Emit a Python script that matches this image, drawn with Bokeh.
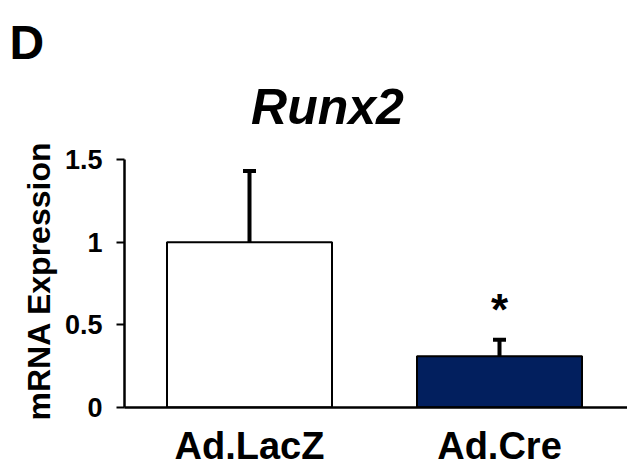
from bokeh.plotting import figure
from bokeh.models import Range1d, FixedTicker, Whisker, TeeHead, ColumnDataSource, Title, Label
from bokeh.core.properties import value
from bokeh.embed import file_html
from bokeh.resources import INLINE

categories = ["Ad.LacZ", "Ad.Cre"]
means = [1.0, 0.31]
errors = [0.43, 0.10]
colors = ["#ffffff", "#021f5e"]
y_ticks = [0, 0.5, 1, 1.5]
y_tick_labels = {0: "0", 0.5: "0.5", 1: "1", 1.5: "1.5"}
sig_marks = ["", "*"]

FONT = "Liberation Sans"

xs = [i + 0.5 for i in range(len(categories))]
src = ColumnDataSource(dict(
    x=xs, top=means, upper=[m + e for m, e in zip(means, errors)],
    color=colors, cat=categories,
))

# frame: x 124..627, y 80..407 (0 -> 407, 1.5 -> 159)
p = figure(width=627, height=469, output_backend="svg", toolbar_location=None,
           x_range=Range1d(0, 2.012), y_range=Range1d(0, 1.978),
           min_border_left=124, min_border_right=0, min_border_top=80,
           min_border_bottom=62)
p.outline_line_color = None
p.grid.visible = False
p.background_fill_color = "white"
p.border_fill_color = "white"

p.vbar(x="x", top="top", width=0.66, bottom=0, fill_color="color",
       line_color="black", line_width=2, source=src)

w = Whisker(base="x", upper="upper", lower="top", source=src,
            line_color="black", line_width=4,
            upper_head=TeeHead(size=13, line_width=4, line_color="black"),
            lower_head=None)
p.add_layout(w)

# significance mark
sig_x = [x for x, s in zip(xs, sig_marks) if s]
sig_y = [m + e + 0.185 for m, e, s in zip(means, errors, sig_marks) if s]
sig_t = [s for s in sig_marks if s]
p.text(x=sig_x, y=sig_y, text=sig_t, text_font=value(FONT), text_font_style="bold",
       text_font_size="44px", text_align="center", text_baseline="alphabetic",
       text_color="black")

# y axis
ya = p.yaxis[0]
ya.bounds = (y_ticks[0], y_ticks[-1])
ya.ticker = FixedTicker(ticks=y_ticks)
ya.major_label_overrides = y_tick_labels
ya.minor_tick_line_color = None
ya.major_tick_in = 0
ya.major_tick_out = 8
ya.major_tick_line_width = 2
ya.axis_line_width = 2.5
ya.axis_line_color = "black"
ya.major_label_text_font = FONT
ya.major_label_text_font_style = "bold"
ya.major_label_text_font_size = "27px"
ya.major_label_text_color = "black"
ya.major_label_standoff = 14

# y axis title, placed along the 0..1.5 span (frame extends higher)
p.add_layout(Title(text="mRNA Expression", align="left", offset=-13, standoff=10,
                   text_font=FONT, text_font_style="bold",
                   text_font_size="32px", text_color="black"), "left")

# x axis
xa = p.xaxis[0]
xa.ticker = FixedTicker(ticks=xs)
xa.major_label_overrides = {x: c for x, c in zip(xs, categories)}
xa.major_tick_line_color = None
xa.major_tick_out = 0
xa.major_tick_in = 0
xa.minor_tick_line_color = None
xa.axis_line_width = 2.5
xa.axis_line_color = "black"
xa.major_label_text_font = FONT
xa.major_label_text_font_style = "bold"
xa.major_label_text_font_size = "38px"
xa.major_label_text_color = "black"
xa.major_label_standoff = 17

# chart title inside the (extended) frame, above the y-axis bounds
p.add_layout(Label(x=0.812, y=1.815, text="Runx2", text_font=FONT,
                   text_font_style="bold italic", text_font_size="50px",
                   text_align="center", text_baseline="alphabetic",
                   text_color="black"))
# panel letter
p.add_layout(Title(text="D", align="left", offset=-115, standoff=20,
                   vertical_align="top",
                   text_font=FONT, text_font_style="bold",
                   text_font_size="48px", text_color="black"), "above")

open("out.html", "w").write(file_html(p, INLINE))
